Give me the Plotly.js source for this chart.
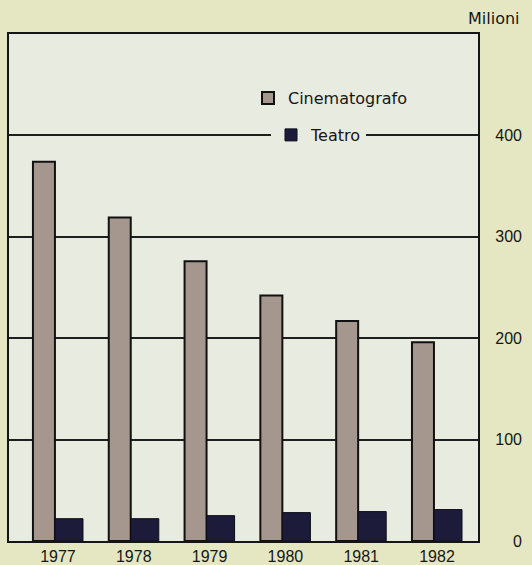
<!DOCTYPE html>
<html>
<head>
<meta charset="utf-8">
<script src="https://cdn.plot.ly/plotly-3.0.1.min.js"></script>
<style>html,body{margin:0;padding:0;background:#e5e7c3;}</style>
</head>
<body>
<div id="chart" style="width:532px;height:565px;"></div>
<script>
const years = ["1977", "1978", "1979", "1980", "1981", "1982"];
const cinematografo = [374, 319, 276, 242, 217, 196];
const teatro = [22, 22, 25, 28, 29, 31];
const yTicks = [0, 100, 200, 300, 400];
const seriesNames = ["Cinematografo", "Teatro"];
const unitLabel = "Milioni";

const FONT = "DejaVu Sans, Arial, sans-serif";
const NUMFONT = "Liberation Sans, Arial, sans-serif";
const INK = "#161616";
const PLOTBG = "#e8ebdf";

const traces = [
  {
    type: "bar", name: seriesNames[0], x: years, y: cinematografo,
    offset: -0.33, width: 0.29,
    marker: {color: "#a6978e", line: {color: "#111111", width: 2}},
    legend: "legend", xaxis: "x", yaxis: "y", hoverinfo: "none"
  },
  {
    type: "bar", name: seriesNames[1], x: years, y: teatro,
    offset: -0.04, width: 0.37,
    marker: {color: "#1c1b3a", line: {color: "#0d0d18", width: 1}},
    legend: "legend2", xaxis: "x", yaxis: "y2", hoverinfo: "none"
  }
];

const layout = {
  width: 532, height: 565,
  margin: {l: 9, r: 10, t: 34, b: 24, pad: 0},
  paper_bgcolor: "#e5e7c3",
  plot_bgcolor: PLOTBG,
  barmode: "overlay",
  font: {family: FONT, size: 14, color: INK},
  showlegend: true,
  xaxis: {
    type: "category", domain: [0, 469/513], range: [-0.646, 5.541],
    showgrid: false, showline: true, linecolor: "#151515", linewidth: 2, mirror: true,
    ticks: "", tickfont: {family: NUMFONT, size: 16, color: INK}, zeroline: false
  },
  yaxis: {
    range: [0, 500], autorange: false, side: "right",
    tickvals: yTicks, showticklabels: false,
    showgrid: true, gridcolor: "#1e1e1e", gridwidth: 2,
    showline: true, linecolor: "#151515", linewidth: 2, mirror: true,
    zeroline: false, ticks: ""
  },
  yaxis2: {
    range: [0, 500], autorange: false, overlaying: "y", anchor: "free", position: 1,
    side: "left", tickvals: yTicks, ticktext: yTicks.map(String),
    showgrid: false, showline: false, zeroline: false, ticks: "",
    tickfont: {family: NUMFONT, size: 16, color: INK}
  },
  legend: {
    x: (248-9)/513, xanchor: "left", y: (541-98)/507, yanchor: "middle",
    bgcolor: "rgba(0,0,0,0)", borderwidth: 0,
    font: {family: FONT, size: 16, color: INK}
  },
  legend2: {
    x: (271-9)/513, xanchor: "left", y: (541-135)/507, yanchor: "middle",
    bgcolor: PLOTBG, borderwidth: 0,
    font: {family: FONT, size: 16, color: INK}
  },
  annotations: [
    {text: unitLabel, xref: "paper", yref: "paper", x: 1, xanchor: "right",
     y: (541-18)/507, yanchor: "middle", showarrow: false,
     font: {family: FONT, size: 16, color: INK}}
  ]
};

Plotly.newPlot("chart", traces, layout, {staticPlot: true, displayModeBar: false});
</script>
</body>
</html>
